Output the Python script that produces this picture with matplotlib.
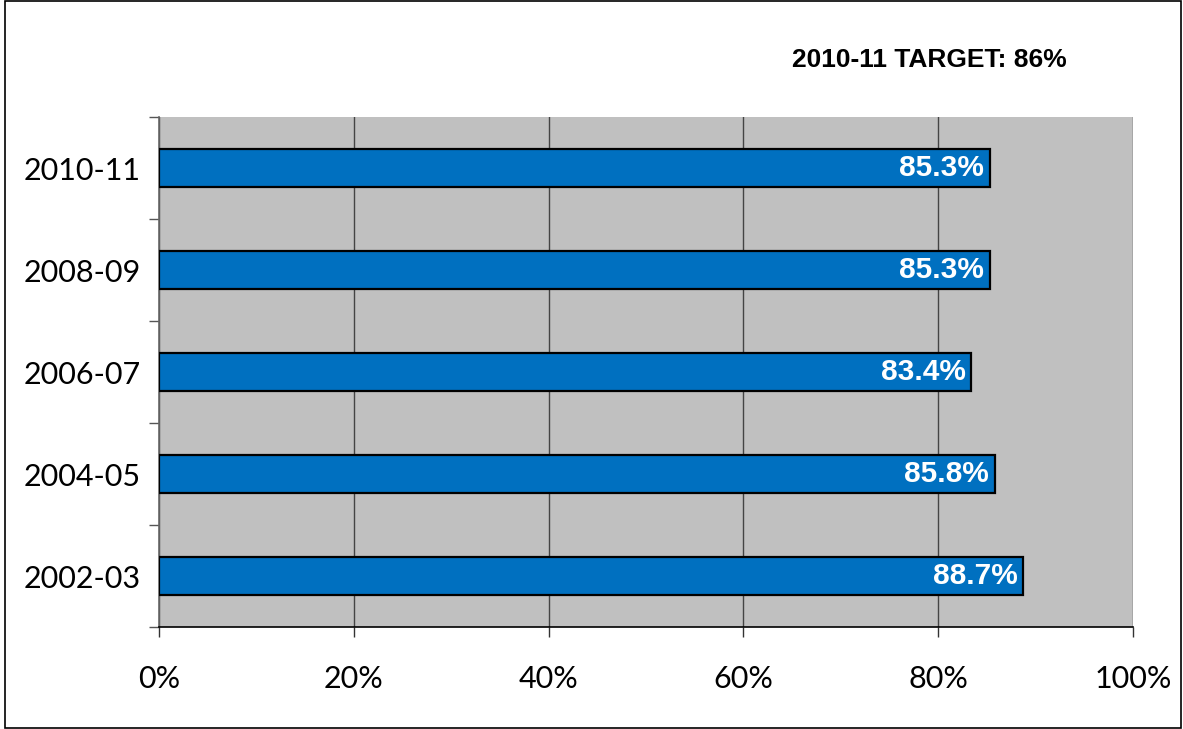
import numpy as np
import matplotlib.pyplot as plt
from matplotlib.patches import Rectangle

# dados
years = ['2002-03', '2004-05', '2006-07', '2008-09', '2010-11']
values = [88.7, 85.8, 83.4, 85.3, 85.3]
x_ticks = [0, 20, 40, 60, 80, 100]
x_labels = ['0%', '20%', '40%', '60%', '80%', '100%']

fig = plt.figure(figsize=(11.83, 7.29), dpi=100)
ax = fig.add_axes([159 / 1183, 1 - 627 / 729, (1133 - 159) / 1183, (627 - 117) / 729])
ax.set_facecolor('#C0C0C0')

y = np.arange(len(years))
ax.barh(y, values, height=0.37, color='#0070C0', edgecolor='black', linewidth=1.6, zorder=3)

for yi, v in zip(y, values):
    ax.annotate(f'{v:.1f}%', xy=(v, yi), xytext=(-4, 0), textcoords='offset points',
                ha='right', va='center', color='white', fontsize=21.5,
                fontweight='bold', family='Liberation Sans', zorder=4)

ax.set_xlim(0, 100)
ax.set_ylim(-0.5, len(years) - 0.5)
ax.set_xticks(x_ticks)
ax.set_xticklabels(x_labels, family='Lato', fontsize=22)
ax.set_yticks(y)
ax.set_yticklabels(years, family='Lato', fontsize=22)
ax.tick_params(axis='y', length=0, pad=13)
ax.set_yticks(np.arange(-0.5, len(years)), minor=True)
ax.tick_params(axis='y', which='minor', length=7, width=1, color='#555555', direction='out')
ax.tick_params(axis='x', length=7, width=1, color='#333333', direction='out', pad=20)

ax.xaxis.grid(True, color='#444444', linewidth=1, zorder=1)
ax.set_axisbelow(True)
for s in ['top', 'right']:
    ax.spines[s].set_visible(False)
ax.spines['bottom'].set_color('black')
ax.spines['bottom'].set_linewidth(1.2)
ax.spines['left'].set_color('#666666')
ax.spines['left'].set_linewidth(1.2)

fig.text(929 / 1183, 1 - 60 / 729, '2010-11 TARGET: 86%', ha='center', va='center',
         fontsize=19, fontweight='bold', family='Liberation Sans')

fig.patches.append(Rectangle((0.004, 0.002), 0.994, 0.996, transform=fig.transFigure,
                             fill=False, edgecolor='black', linewidth=1.2))

fig.savefig('out.png', dpi=100)
